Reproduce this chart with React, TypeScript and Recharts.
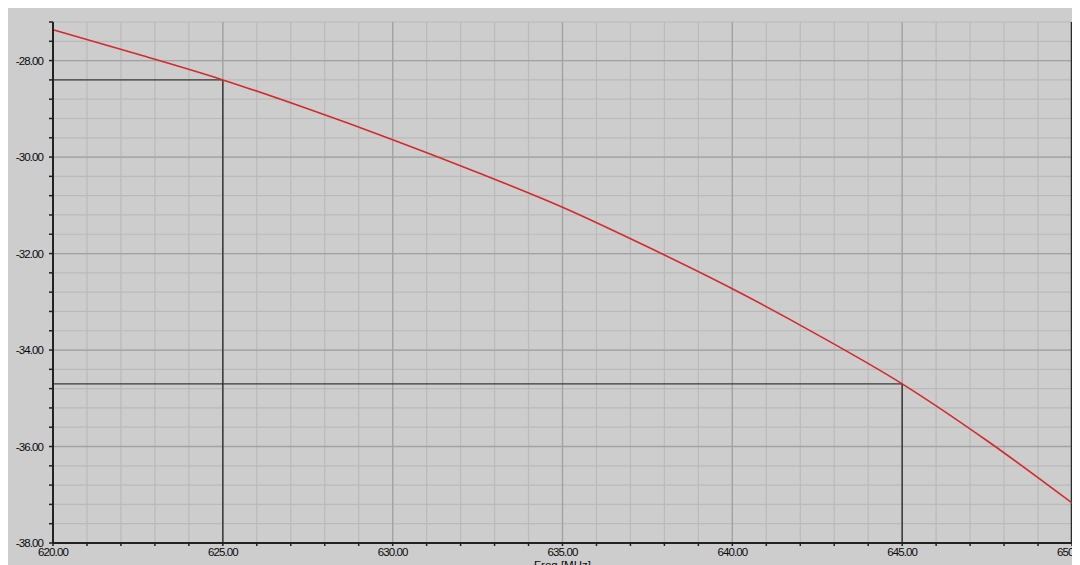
import { LineChart, Line, XAxis, YAxis, CartesianGrid, ReferenceLine } from "recharts"

// curve (Freq in MHz, value in dB)
const freqs = [620, 622.5, 625, 627.5, 630, 632.5, 635, 637.5, 640, 642.5, 645, 647.5, 650]
const values = [-27.36, -27.87, -28.4, -29.0, -29.64, -30.32, -31.04, -31.86, -32.73, -33.68, -34.7, -35.88, -37.17]

const xTicks = [
  620, 621, 622, 623, 624, 625, 626, 627, 628, 629, 630, 631, 632, 633, 634, 635,
  636, 637, 638, 639, 640, 641, 642, 643, 644, 645, 646, 647, 648, 649, 650,
]
const xMajor = [620, 625, 630, 635, 640, 645, 650]
const yTicks = [
  -38, -37.6, -37.2, -36.8, -36.4, -36, -35.6, -35.2, -34.8, -34.4, -34, -33.6, -33.2, -32.8,
  -32.4, -32, -31.6, -31.2, -30.8, -30.4, -30, -29.6, -29.2, -28.8, -28.4, -28, -27.6, -27.2,
]
const yMajor = [-38, -36, -34, -32, -30, -28]

// marker points
const markers = [
  { f: 625, v: -28.4 },
  { f: 645, v: -34.7 },
]

const data = freqs.map((f, i) => ({ f, v: values[i] }))

const tickStyle = {
  fill: "#0a0a0a",
  fontSize: 11.5,
  fontFamily: "'Liberation Sans', Arial, sans-serif",
  letterSpacing: -0.9,
}

const isMajorY = (v: number) => yMajor.some((m) => Math.abs(m - v) < 1e-6)

export default function App() {
  return (
    <div style={{ width: 1072, height: 557, background: "#cdcdcd" }}>
      <LineChart
        width={1072}
        height={557}
        data={data}
        margin={{ top: 14, right: 8, left: 0, bottom: 0 }}
      >
        <CartesianGrid stroke="#bababa" strokeWidth={1.2} verticalValues={xTicks} horizontalValues={yTicks} />
        <CartesianGrid stroke="#a2a2a2" strokeWidth={1.3} verticalValues={xMajor} horizontalValues={yMajor} />
        <XAxis
          dataKey="f"
          type="number"
          domain={[620, 650]}
          ticks={xTicks}
          interval={0}
          height={22}
          tick={tickStyle}
          tickSize={3}
          tickMargin={2}
          tickLine={{ stroke: "#222", strokeWidth: 1.5 }}
          axisLine={{ stroke: "#222", strokeWidth: 2 }}
          tickFormatter={(v: number) => (xMajor.includes(v) ? v.toFixed(2) : "")}
          label={{
            value: "Freq [MHz]",
            position: "insideBottom",
            offset: -4,
            fill: "#0a0a0a",
            fontSize: 11.5,
            fontFamily: "'Liberation Sans', Arial, sans-serif",
          }}
        />
        <YAxis
          type="number"
          domain={[-38, -27.2]}
          ticks={yTicks}
          interval={0}
          allowDataOverflow
          width={45}
          tick={tickStyle}
          tickSize={4}
          tickMargin={6}
          tickLine={{ stroke: "#222", strokeWidth: 1.5 }}
          axisLine={{ stroke: "#222", strokeWidth: 2 }}
          tickFormatter={(v: number) => (isMajorY(v) ? v.toFixed(2) : "")}
        />
        <ReferenceLine x={650} stroke="#2a2a2a" strokeWidth={2.5} />
        {markers.map((m) => (
          <ReferenceLine
            key={`h${m.f}`}
            segment={[
              { x: 620, y: m.v },
              { x: m.f, y: m.v },
            ]}
            stroke="#3a3a3a"
            strokeWidth={1.3}
          />
        ))}
        {markers.map((m) => (
          <ReferenceLine
            key={`v${m.f}`}
            segment={[
              { x: m.f, y: m.v },
              { x: m.f, y: -38 },
            ]}
            stroke="#2a2a2a"
            strokeWidth={1.3}
          />
        ))}
        <Line
          type="monotone"
          dataKey="v"
          stroke="#d42a2a"
          strokeWidth={1.6}
          dot={false}
          isAnimationActive={false}
        />
      </LineChart>
    </div>
  )
}
